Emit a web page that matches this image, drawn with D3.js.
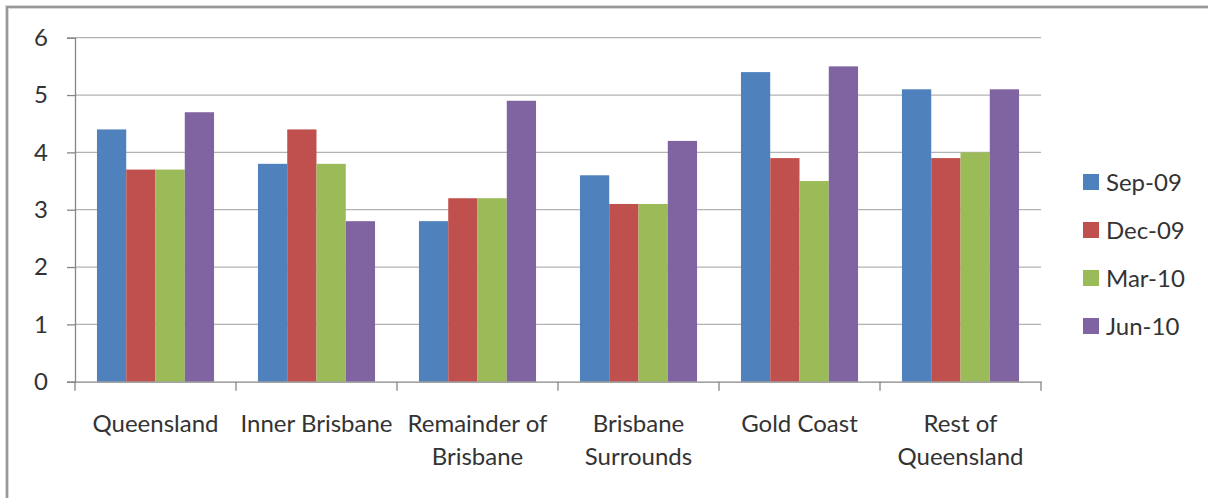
<!DOCTYPE html>
<html>
<head>
<meta charset="utf-8">
<script src="https://cdn.jsdelivr.net/npm/d3@7"></script>
<style>
  body { margin: 0; background: #fff; }
  svg { display: block; }
  text { font-family: Lato, "Open Sans", sans-serif; fill: #333; }
</style>
</head>
<body>
<div id="chart"></div>
<script>
// categories (tick labels, line breaks as in the picture)
var categories = ["Queensland", "Inner Brisbane", "Remainder of\nBrisbane", "Brisbane\nSurrounds", "Gold Coast", "Rest of\nQueensland"];
var seriesNames = ["Sep-09", "Dec-09", "Mar-10", "Jun-10"];
var sep09 = [4.4, 3.8, 2.8, 3.6, 5.4, 5.1];
var dec09 = [3.7, 4.4, 3.2, 3.1, 3.9, 3.9];
var mar10 = [3.7, 3.8, 3.2, 3.1, 3.5, 4.0];
var jun10 = [4.7, 2.8, 4.9, 4.2, 5.5, 5.1];
var yTicks = [0, 1, 2, 3, 4, 5, 6];
var colors = ["#4F81BD", "#C0504D", "#9BBB59", "#8064A2"];

var width = 1208, height = 498;
var margin = {top: 37.7, left: 75, right: 167, bottom: 116.3};
var fontSize = "24px";

var series = [sep09, dec09, mar10, jun10];

var svg = d3.select("#chart").append("svg")
    .attr("width", width)
    .attr("height", height);

// outer frame
svg.append("rect")
    .attr("x", 7).attr("y", 7)
    .attr("width", width + 10).attr("height", height + 10)
    .attr("fill", "none")
    .attr("stroke", "#d8d8d8")
    .attr("stroke-width", 4);
svg.append("rect")
    .attr("x", 7).attr("y", 7)
    .attr("width", width + 10).attr("height", height + 10)
    .attr("fill", "none")
    .attr("stroke", "#8a8a8a")
    .attr("stroke-width", 1.6);

// one band per category, bars take 4 of 5.5 bar widths (gap 150%)
var xCat = d3.scaleBand()
    .domain(categories)
    .range([margin.left, width - margin.right]);
var barW = xCat.bandwidth() / 5.5;
var x1 = d3.scaleBand()
    .domain(seriesNames)
    .range([0, barW * 4]);

var y = d3.scaleLinear()
    .domain([0, 6])
    .range([height - margin.bottom, margin.top]);

// gridlines
svg.append("g")
    .selectAll("line")
    .data(yTicks.filter(function(d){ return d > 0; }))
    .enter().append("line")
    .attr("x1", margin.left).attr("x2", width - margin.right)
    .attr("y1", function(d){ return y(d); })
    .attr("y2", function(d){ return y(d); })
    .attr("stroke", "#b3b3b3")
    .attr("stroke-width", 1.3);

// bars
var groups = svg.append("g")
    .selectAll("g")
    .data(categories)
    .enter().append("g")
    .attr("transform", function(d){ return "translate(" + (xCat(d) + barW * 0.75) + ",0)"; });

groups.selectAll("rect")
    .data(function(d, i){
        return seriesNames.map(function(s, j){ return {s: s, v: series[j][i], j: j}; });
    })
    .enter().append("rect")
    .attr("x", function(d){ return x1(d.s); })
    .attr("width", x1.bandwidth())
    .attr("y", function(d){ return y(d.v); })
    .attr("height", function(d){ return y(0) - y(d.v); })
    .attr("fill", function(d){ return colors[d.j]; });

// y axis
var yAxis = svg.append("g")
    .attr("transform", "translate(" + margin.left + ",0)")
    .call(d3.axisLeft(y).tickValues(yTicks).tickSize(8).tickPadding(19).tickFormat(d3.format("d")));
yAxis.select(".domain").attr("stroke", "#868686").attr("stroke-width", 1.3);
yAxis.selectAll(".tick line").attr("stroke", "#868686").attr("stroke-width", 1.3);
yAxis.selectAll(".tick text").style("font-size", fontSize).attr("fill", "#333");

// x axis
var xAxis = svg.append("g")
    .attr("transform", "translate(0," + y(0) + ")")
    .call(d3.axisBottom(xCat).tickSize(0).tickFormat(""));
xAxis.select(".domain").attr("stroke", "#868686").attr("stroke-width", 1.3);

// category boundary ticks
var bounds = categories.map(function(c){ return xCat(c); }).concat([width - margin.right]);
svg.append("g")
    .selectAll("line")
    .data(bounds)
    .enter().append("line")
    .attr("x1", function(d){ return d; }).attr("x2", function(d){ return d; })
    .attr("y1", y(0)).attr("y2", y(0) + 9)
    .attr("stroke", "#868686")
    .attr("stroke-width", 1.3);

// category labels
var labels = svg.append("g")
    .selectAll("text")
    .data(categories)
    .enter().append("text")
    .attr("text-anchor", "middle")
    .style("font-size", fontSize)
    .attr("x", function(d){ return xCat(d) + xCat.bandwidth() / 2; })
    .attr("y", y(0) + 50);
labels.selectAll("tspan")
    .data(function(d){ return d.split("\n"); })
    .enter().append("tspan")
    .attr("x", function(){ return this.parentNode.getAttribute("x"); })
    .attr("dy", function(d, i){ return i === 0 ? 0 : 33; })
    .text(function(d){ return d; });

// legend
var legend = svg.append("g")
    .attr("transform", "translate(1083,174)");
var li = legend.selectAll("g")
    .data(seriesNames)
    .enter().append("g")
    .attr("transform", function(d, i){ return "translate(0," + (i * 48) + ")"; });
li.append("rect")
    .attr("width", 16).attr("height", 16)
    .attr("fill", function(d, i){ return colors[i]; });
li.append("text")
    .attr("x", 23).attr("y", 16.5)
    .style("font-size", fontSize)
    .text(function(d){ return d; });
</script>
</body>
</html>
